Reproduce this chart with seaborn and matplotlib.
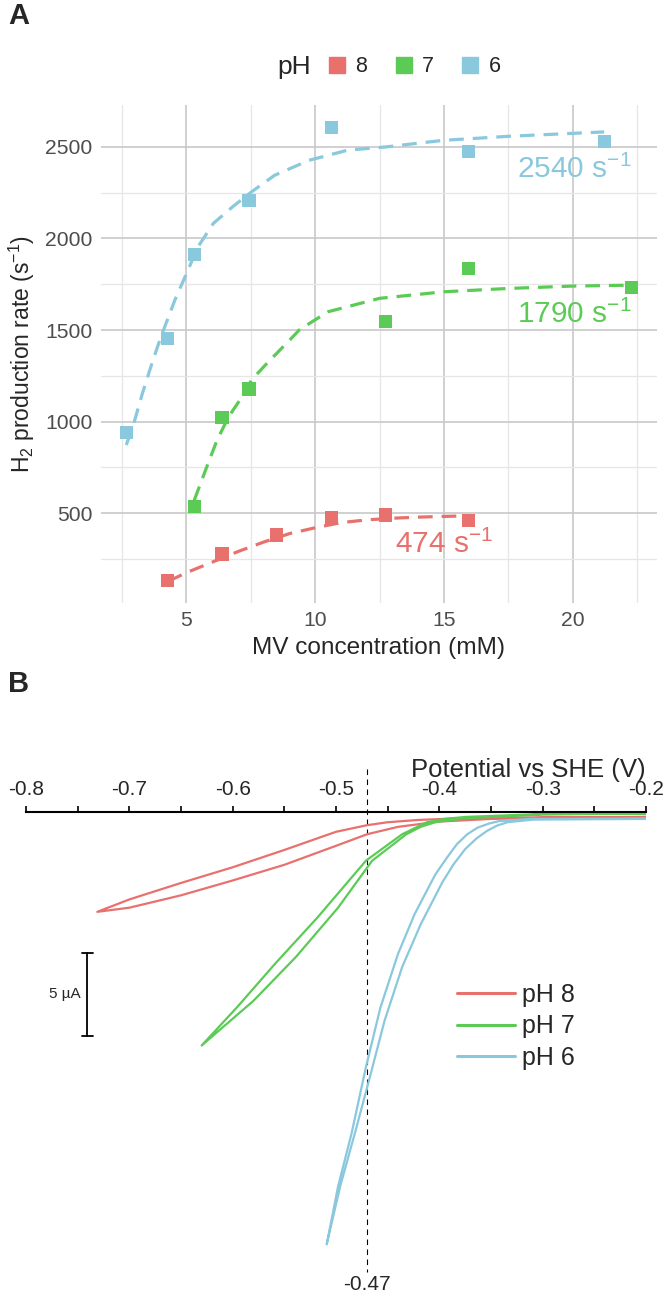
import numpy as np
import pandas as pd
import matplotlib
matplotlib.use('Agg')
import matplotlib.pyplot as plt
import seaborn as sns
from matplotlib.ticker import MultipleLocator
from matplotlib.lines import Line2D

sns.set_theme(style='white')
plt.rcParams['font.family'] = ['Liberation Sans', 'DejaVu Sans']
plt.rcParams['mathtext.fontset'] = 'custom'
plt.rcParams['mathtext.rm'] = 'Liberation Sans'
plt.rcParams['mathtext.it'] = 'Liberation Sans:italic'

W, H = 663, 1295
ph_levels = ['8', '7', '6']
ph_colors = {'8': '#E8716E', '7': '#5BCB56', '6': '#89C8DD'}

# ---- panel A: H2 production rate vs MV concentration ----
mv_ph8 = [4.26, 6.38, 8.50, 10.63, 12.74, 15.94]
rate_ph8 = [133, 276, 381, 474, 489, 458]
mv_ph7 = [5.30, 6.38, 7.43, 12.74, 15.94, 22.29]
rate_ph7 = [535, 1022, 1177, 1545, 1836, 1733]
mv_ph6 = [2.66, 4.26, 5.30, 7.43, 10.63, 15.94, 21.22]
rate_ph6 = [940, 1455, 1913, 2209, 2605, 2476, 2529]

# fitted curves
fit_x_ph8 = [4.3, 5.0, 6.0, 7.0, 8.0, 9.0, 10.0, 11.0, 12.0, 13.0, 14.0, 15.0, 15.9]
fit_y_ph8 = [128, 175, 232, 290, 342, 388, 420, 448, 463, 472, 478, 482, 485]
fit_x_ph7 = [5.3, 5.74, 6.19, 6.64, 7.08, 7.53, 8.13, 9.02, 9.39, 10.5, 12.5, 15.0, 17.5, 20.0, 22.3]
fit_y_ph7 = [570, 735, 900, 1027, 1119, 1228, 1319, 1447, 1502, 1600, 1673, 1709, 1727, 1740, 1745]
fit_x_ph6 = [2.66, 2.92, 3.29, 3.66, 4.0, 4.55, 5.0, 5.45, 6.04, 6.79, 7.53, 8.42, 9.76, 11.25,
             12.74, 14.97, 17.5, 21.22]
fit_y_ph6 = [872, 973, 1155, 1319, 1460, 1664, 1809, 1955, 2082, 2173, 2255, 2345, 2427, 2482,
             2500, 2536, 2558, 2582]

kcat_text = ['474 s$^{-1}$', '1790 s$^{-1}$', '2540 s$^{-1}$']
kcat_x = [16.9, 22.3, 22.3]
kcat_y = [330, 1585, 2378]

# ---- panel B: cyclic voltammograms (potential V, current uA) ----
cv_v_ph8 = [-0.20, -0.30, -0.38, -0.42, -0.45, -0.47, -0.50, -0.55, -0.60, -0.65, -0.70, -0.731,
            -0.70, -0.65, -0.60, -0.55, -0.50, -0.47, -0.44, -0.40, -0.35, -0.30, -0.20]
cv_i_ph8 = [-0.30, -0.32, -0.38, -0.48, -0.62, -0.80, -1.20, -2.30, -3.35, -4.30, -5.30, -6.05,
            -5.80, -5.05, -4.15, -3.20, -2.05, -1.35, -0.90, -0.58, -0.42, -0.36, -0.30]
cv_v_ph7 = [-0.20, -0.30, -0.375, -0.395, -0.412, -0.436, -0.471, -0.518, -0.559, -0.596, -0.630,
            -0.580, -0.539, -0.498, -0.465, -0.432, -0.418, -0.404, -0.375, -0.30, -0.20]
cv_i_ph7 = [-0.10, -0.12, -0.30, -0.42, -0.62, -1.35, -2.95, -6.40, -9.20, -11.85, -14.15,
            -11.45, -8.80, -5.80, -2.95, -1.35, -0.90, -0.62, -0.38, -0.15, -0.10]
cv_v_ph6 = [-0.20, -0.313, -0.342, -0.352, -0.363, -0.373, -0.383, -0.393, -0.404, -0.424, -0.440,
            -0.457, -0.471, -0.485, -0.498, -0.509, -0.496, -0.481, -0.468, -0.453, -0.436, -0.418,
            -0.397, -0.386, -0.375, -0.364, -0.354, -0.344, -0.334, -0.309, -0.20]
cv_i_ph6 = [-0.40, -0.42, -0.55, -0.70, -0.95, -1.35, -1.95, -2.80, -3.80, -6.20, -8.60,
            -11.85, -15.45, -19.50, -22.70, -26.20, -22.70, -19.30, -16.25, -12.65, -9.40, -6.80,
            -4.25, -3.15, -2.25, -1.60, -1.15, -0.82, -0.62, -0.46, -0.42]
cv_labels = ['pH 8', 'pH 7', 'pH 6']
onset_potential = -0.47

fig = plt.figure(figsize=(W / 100, H / 100), dpi=100)


def fx(px):
    return px / W


def fy(py):
    return 1 - py / H


# ================= panel A =================
axA = fig.add_axes([fx(101), fy(603), fx(556), 498 / H])
dfA = pd.DataFrame({
    'mv': mv_ph8 + mv_ph7 + mv_ph6,
    'rate': rate_ph8 + rate_ph7 + rate_ph6,
    'pH': ['8'] * len(mv_ph8) + ['7'] * len(mv_ph7) + ['6'] * len(mv_ph6),
})
dfFit = pd.DataFrame({
    'mv': fit_x_ph8 + fit_x_ph7 + fit_x_ph6,
    'rate': fit_y_ph8 + fit_y_ph7 + fit_y_ph6,
    'pH': ['8'] * len(fit_x_ph8) + ['7'] * len(fit_x_ph7) + ['6'] * len(fit_x_ph6),
})
sns.lineplot(data=dfFit, x='mv', y='rate', hue='pH', hue_order=ph_levels, palette=ph_colors,
             sort=False, estimator=None, lw=2.3, legend=False, ax=axA, zorder=2)
for ln in axA.lines:
    ln.set_linestyle((0, (4.6, 2.8)))
sns.scatterplot(data=dfA, x='mv', y='rate', hue='pH', hue_order=ph_levels, palette=ph_colors,
                marker='s', s=92, edgecolor='none', linewidth=0, legend=False, ax=axA, zorder=3)

for txt, x, y, lvl in zip(kcat_text, kcat_x, kcat_y, ph_levels):
    axA.text(x, y, txt, color=ph_colors[lvl], fontsize=21.5, ha='right', va='center')

axA.set_xlim(1.68, 23.27)
axA.set_ylim(9, 2729)
axA.xaxis.set_minor_locator(MultipleLocator(2.5))
axA.yaxis.set_minor_locator(MultipleLocator(250))
axA.set_xticks([5, 10, 15, 20])
axA.set_yticks([500, 1000, 1500, 2000, 2500])
axA.grid(which='major', color='#C8C8C8', lw=1.2)
axA.grid(which='minor', color='#E6E6E6', lw=0.9)
axA.set_axisbelow(True)
for s in axA.spines.values():
    s.set_visible(False)
axA.tick_params(which='both', length=0, labelsize=15.2, labelcolor='#4D4D4D', pad=6)
axA.set_xlabel('MV concentration (mM)', fontsize=17.6, labelpad=5)
axA.set_ylabel(r'H$_2$ production rate (s$^{-1}$)', fontsize=16.5, labelpad=6)

fig.text(fx(294), fy(67), 'pH', fontsize=19, ha='center', va='center')
handles = [Line2D([], [], marker='s', ls='none', color=ph_colors[l], markersize=11) for l in ph_levels]
fig.legend(handles, ph_levels, ncol=3, loc='center left', bbox_to_anchor=(fx(326), fy(67)),
           frameon=False, fontsize=15.5, handletextpad=0.35, columnspacing=1.2, handlelength=1.0,
           borderpad=0, borderaxespad=0)
fig.text(fx(8), fy(16), 'A', fontsize=21, fontweight='bold', ha='left', va='center')

# ================= panel B =================
px_per_ua = 16.5
axis_y = 812
axB = fig.add_axes([fx(26), 0, fx(620), (H - 700) / H])
dfB = pd.DataFrame({
    'V': cv_v_ph8 + cv_v_ph7 + cv_v_ph6,
    'I': cv_i_ph8 + cv_i_ph7 + cv_i_ph6,
    'pH': [cv_labels[0]] * len(cv_v_ph8) + [cv_labels[1]] * len(cv_v_ph7) + [cv_labels[2]] * len(cv_v_ph6),
})
cv_palette = dict(zip(cv_labels, [ph_colors[l] for l in ph_levels]))
sns.lineplot(data=dfB, x='V', y='I', hue='pH', hue_order=cv_labels, palette=cv_palette,
             sort=False, estimator=None, lw=1.6, ax=axB)

axB.set_xlim(-0.8, -0.2)
axB.set_ylim(-(H - axis_y) / px_per_ua, (axis_y - 700) / px_per_ua)
for side in ['bottom', 'left', 'right']:
    axB.spines[side].set_visible(False)
axB.spines['top'].set_position(('data', 0))
axB.spines['top'].set_color('black')
axB.spines['top'].set_linewidth(1.5)
axB.xaxis.set_ticks_position('top')
axB.xaxis.set_label_position('top')
axB.xaxis.set_minor_locator(MultipleLocator(0.05))
axB.set_xticks(np.round(np.arange(-0.8, -0.15, 0.1), 2))
axB.set_xticklabels(['-0.8', '-0.7', '-0.6', '-0.5', '-0.4', '-0.3', '-0.2'])
axB.tick_params(axis='x', which='both', direction='out', length=4.3, width=1.2, color='black',
                labelsize=15, pad=5, top=True, bottom=False)
axB.set_yticks([])
axB.set_xlabel('')
axB.set_ylabel('')
axB.grid(False)
axB.text(-0.2, (axis_y - 777) / px_per_ua, 'Potential vs SHE (V)', fontsize=18.5,
         ha='right', va='baseline')

# onset potential marker
axB.plot([onset_potential, onset_potential], [2.6, -27.9], color='black', lw=0.8,
         ls=(0, (5, 4)), zorder=1)
axB.text(onset_potential, -(1285 - axis_y) / px_per_ua, '-0.47', fontsize=15,
         ha='center', va='center')

# 5 uA scale bar
bar_x = -0.7405
bar_top = -(953 - axis_y) / px_per_ua
bar_bot = bar_top - 5
axB.plot([bar_x, bar_x], [bar_top, bar_bot], color='black', lw=1.3)
axB.plot([bar_x - 0.005, bar_x + 0.005], [bar_top, bar_top], color='black', lw=1.3)
axB.plot([bar_x - 0.005, bar_x + 0.005], [bar_bot, bar_bot], color='black', lw=1.3)
axB.text(bar_x - 0.007, (bar_top + bar_bot) / 2, '5 µA', fontsize=11, ha='right', va='center')

sns.move_legend(axB, 'upper left', bbox_to_anchor=(fx(457), fy(983)), bbox_transform=fig.transFigure,
                frameon=False, title=None, fontsize=18, handlelength=2.3, handletextpad=0.3,
                labelspacing=0.3, borderpad=0, borderaxespad=0)
for ln in axB.get_legend().get_lines():
    ln.set_linewidth(2.2)

fig.text(fx(8), fy(684), 'B', fontsize=21, fontweight='bold', ha='left', va='center')

fig.savefig('out.png', dpi=100)
